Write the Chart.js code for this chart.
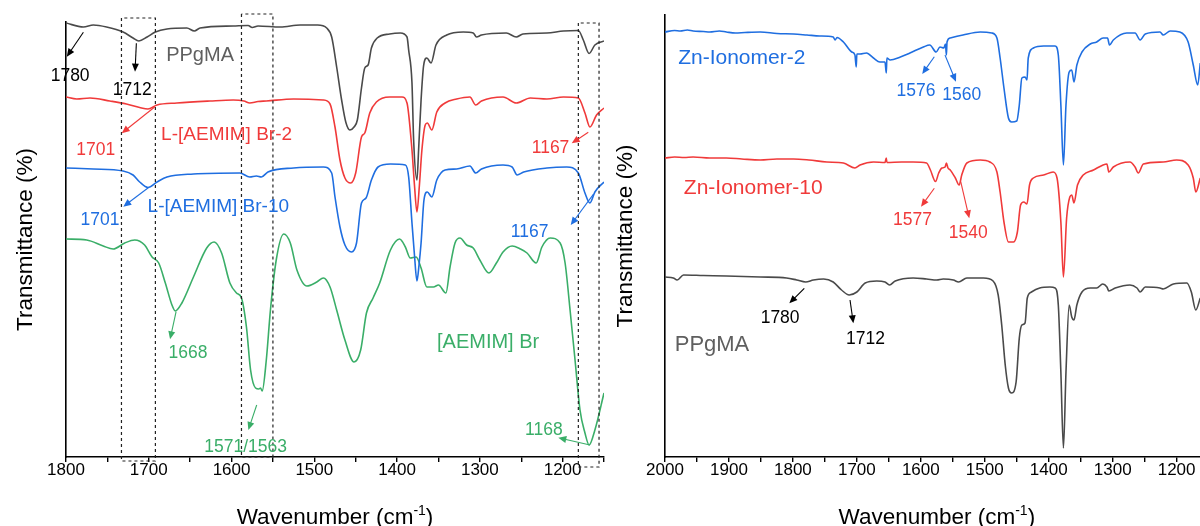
<!DOCTYPE html>
<html>
<head>
<meta charset="utf-8">
<script src="https://cdn.jsdelivr.net/npm/chart.js@4.4.1/dist/chart.umd.min.js"></script>
<style>
  html, body { margin: 0; padding: 0; background: #fff; width: 1200px; height: 526px; overflow: hidden; }
  .panel { position: absolute; top: 0; }
  #leftBox { left: 0; width: 620px; height: 526px; }
  #rightBox { left: 600px; width: 625px; height: 526px; }
</style>
</head>
<body>
<div id="leftBox" class="panel"><canvas id="left" width="620" height="526"></canvas></div>
<div id="rightBox" class="panel"><canvas id="right" width="625" height="526"></canvas></div>
<script>
// ---- FTIR spectra, [wavenumber (cm-1), offset transmittance (a.u.)] ----
const ppgmaL = [[1800,434],[1779,430],[1767,432],[1751,430],[1731,425],[1719,419],[1712,416],[1702,420],[1692,425],[1678,428],[1654,429],[1645,426],[1638,429],[1598,431],[1580,431.5],[1575,429.5],[1568,431],[1541,430],[1517,432],[1496,432],[1485,429],[1479,420],[1473,390],[1467,357],[1462,335],[1457,327],[1452,330],[1448,337],[1443,369],[1439,389],[1435,392],[1431,409],[1424,419],[1409,423],[1396,424],[1388,420],[1386,407],[1382,374],[1380,317],[1376,277],[1374,307],[1371,357],[1368,391],[1364,399],[1359,394],[1353,412],[1340,422],[1320,425],[1308,424],[1304,420],[1298,422],[1268,424],[1256,420],[1248,423],[1219,424],[1199,426],[1181,426.5],[1175,417],[1168,403.5],[1161,412],[1150,416]];

const aemimBr2 = [[1800,360],[1787,358],[1771,359],[1747,356],[1727,353],[1711,349.5],[1701,348],[1690,352],[1666,354],[1626,356],[1598,357],[1585,356],[1578,354],[1568,355.5],[1558,356],[1525,358],[1489,357],[1481,353],[1475,330],[1469,297],[1463,279],[1456,274],[1450,284],[1443,320],[1439,324],[1433,344],[1425,355],[1409,360],[1394,360],[1388,354],[1382,307],[1379,272],[1376,245],[1373,272],[1370,307],[1366,332],[1363.5,334],[1358,327],[1352,345],[1342,354],[1328,358],[1312,360],[1305,352],[1298,356],[1272,360],[1256,354],[1239,359],[1219,358],[1199,360],[1181,359],[1173,344],[1167,330],[1159,342],[1150,349]];

const aemimBr10 = [[1800,289],[1767,288],[1731,286],[1719,282],[1711,275],[1701,269.5],[1690,275],[1678,280],[1646,283],[1590,284],[1578,280],[1570,281],[1564,280],[1556,285],[1525,289],[1489,290],[1479,284],[1475,260],[1469,230],[1463,212],[1455,205],[1449,214],[1443,254],[1437.5,259],[1431,277],[1423,290],[1408,293],[1390,292],[1386,280],[1382,234],[1379,202],[1376,176],[1373.5,192],[1371,214],[1367.5,257],[1363.5,265],[1358,260],[1352,277],[1342,287],[1328,288],[1312,291],[1305,284],[1298,288],[1272,292],[1261,290],[1255,282],[1247,285],[1219,289],[1195,290],[1181,284],[1173,264],[1167,254],[1161,265],[1150,275]];

const aemimBr = [[1800,218],[1775,217],[1755,211],[1743,208],[1729,214],[1717,217],[1705,212],[1696,200],[1688,194],[1680,174],[1672,152],[1668,146],[1660,154],[1646,180],[1630,209],[1621,215],[1612,204],[1602,174],[1594,164],[1588,159],[1582,130],[1577,87],[1571,69],[1567,68],[1565,69],[1563,66],[1558,97],[1553,147],[1546,197],[1537,223],[1529,214],[1521,187],[1509,171],[1497,175],[1489,179],[1481,170],[1473,147],[1463,117],[1452,95],[1444,107],[1437,144],[1429,159],[1421,174],[1408,207],[1397,218],[1390,210],[1384,199],[1377,200],[1371,189],[1364,170],[1356,170],[1350,172],[1341,164],[1336,190],[1330,214],[1324,219],[1316,212],[1308,209],[1300,197],[1289,184],[1280,194],[1272,205],[1261,211],[1251,208],[1243,204],[1232,194],[1225,210],[1215,219],[1203,214],[1197,194],[1191,147],[1185,97],[1179,47],[1173,24],[1168,12],[1161,27],[1150,64]];

const znIonomer2 = [[2000,425],[1985,426.5],[1976,426],[1965,427],[1956,426],[1940,425.5],[1930,425],[1915,426],[1904,425],[1890,424],[1875,424.5],[1851,425],[1825,423.5],[1799,423],[1778,422],[1758,421],[1737,420],[1734,417],[1731,419.5],[1721,415],[1708,405],[1703,402],[1701,390],[1700,403],[1695,403],[1685,404],[1674,399],[1664,395],[1656,395],[1654,384],[1653,399],[1648,397],[1632,400],[1617,404],[1596,410],[1586,412],[1576,405],[1570,410],[1564,409],[1561.5,413],[1560,402],[1559,415],[1554,419],[1534,422],[1507,425],[1489,424],[1481,419],[1476,399],[1470,369],[1463,339],[1458,335],[1450,336],[1446,352],[1442,379],[1437,380],[1434,377],[1432,399],[1424,409],[1408,411],[1390,411],[1385,402],[1381,352],[1377,292],[1373,352],[1368,385],[1364,387],[1360.5,375],[1356,392],[1348,405],[1335,413],[1325,415],[1315,419],[1308,419],[1305,412],[1299,417],[1278,424],[1265,424],[1257,417],[1249,423],[1226,425],[1221,422],[1210,426],[1195,425],[1182,415],[1174,392],[1167,372],[1163,394]];

const znIonomer10 = [[2000,299],[1985,300],[1970,299.5],[1956,300],[1930,299],[1904,299],[1880,298],[1851,297],[1825,298],[1799,298],[1775,297],[1747,295],[1721,294],[1703,289],[1695,292],[1674,295],[1656,294.5],[1654,299],[1653,294.5],[1630,295],[1612,295],[1591,294],[1585,287],[1577,275.5],[1572,284],[1567,289],[1562,290],[1560,294],[1557.5,289],[1554,287],[1546,279],[1540,272],[1536,282],[1528,294],[1507,297],[1492,295],[1481,285],[1476,265],[1470,235],[1463,215],[1455,215],[1449,225],[1444,252],[1439,255],[1434,253],[1430,272],[1424,279],[1408,282],[1393,285],[1387,279],[1381,235],[1377,180],[1372,239],[1367,260],[1364,262],[1360.5,254],[1355,272],[1346,282],[1330,287],[1315,292],[1309,293],[1306,285],[1299,290],[1273,295],[1265,290],[1260,284],[1252,293],[1221,295],[1200,297],[1182,292],[1174,279],[1170,265],[1163,279]];

const ppgmaR = [[2000,180],[1987,179],[1981,177],[1971,182],[1940,181.5],[1904,181],[1851,180],[1810,179],[1794,177],[1780,175],[1768,177],[1752,178],[1737,175],[1724,167],[1712,162],[1700,165],[1687,174],[1669,176],[1656,175],[1649,172],[1640,176],[1612,179],[1591,178],[1575,177],[1565,178],[1549,177],[1541,175],[1528,179],[1502,179],[1487,176],[1479,162],[1473.5,132],[1468,92],[1463,69],[1458,64],[1451,75],[1446,119],[1442,132],[1437,134],[1433.5,159],[1427,165],[1414,169],[1398,170],[1390,169],[1385,152],[1381,85],[1377,9],[1373,85],[1368,152],[1364,140],[1360.5,137],[1356,152],[1348,165],[1335,169],[1325,169],[1315.5,173],[1309,170],[1306,166],[1296,169],[1273,172],[1262,169],[1257,165],[1249,170],[1226,169],[1221,168],[1205,173],[1184,174],[1177,165],[1170,147],[1163,159]];

// wavenumber windows highlighted with dotted boxes (left panel)
const bands = [[1733, 1692], [1588, 1550], [1181, 1156]];

// axis ranges and tick spacing
const leftRange = [1150, 1800];
const rightRange = [1150, 2000];
const tickStep = 50;
const labelStep = 100;

// ---- styling ----
const FONT = '"Liberation Sans", Arial, Helvetica, sans-serif';
const GRAY = '#4a4a4a', RED = '#f03a3a', BLUE = '#1f6ee0', GREEN = '#3aae68', TXTGRAY = '#5f5f5f';

function line(pts, color) {
  return {
    data: pts.map(([x, y]) => ({ x, y })),
    borderColor: color, borderWidth: 1.6, pointRadius: 0,
    cubicInterpolationMode: 'monotone', fill: false
  };
}

function box([a, b], top, bottom) {
  return {
    data: [{x: a, y: top}, {x: a, y: bottom}, {x: b, y: bottom}, {x: b, y: top}, {x: a, y: top}],
    borderColor: '#222', borderWidth: 1.2, borderDash: [3, 3], pointRadius: 0,
    tension: 0, fill: false, clip: false
  };
}

function arrow(ctx, x1, y1, x2, y2, color) {
  const a = Math.atan2(y2 - y1, x2 - x1), c = Math.cos(a), s = Math.sin(a);
  const head = 8, half = 3.5;
  ctx.strokeStyle = color; ctx.fillStyle = color; ctx.lineWidth = 1.1;
  ctx.beginPath(); ctx.moveTo(x1, y1); ctx.lineTo(x2 - c * head * 0.7, y2 - s * head * 0.7); ctx.stroke();
  ctx.beginPath();
  ctx.moveTo(x2, y2);
  ctx.lineTo(x2 - head * c + half * s, y2 - head * s - half * c);
  ctx.lineTo(x2 - head * c - half * s, y2 - head * s + half * c);
  ctx.closePath(); ctx.fill();
}

// labels, peak arrows and axis titles
const annotate = {
  id: 'annotate',
  afterDraw(chart, args, opts) {
    const { ctx, scales: { x, y }, chartArea } = chart;
    const px = v => x.getPixelForValue(v), py = v => y.getPixelForValue(v);
    ctx.save();
    for (const a of opts.items) {
      if (a.from) arrow(ctx, px(a.from[0]), py(a.from[1]), px(a.to[0]), py(a.to[1]), a.color);
      ctx.font = a.size + 'px ' + FONT;
      ctx.fillStyle = a.color; ctx.textAlign = 'center'; ctx.textBaseline = 'middle';
      ctx.fillText(a.text, px(a.at[0]), py(a.at[1]));
    }
    // x title with superscript
    ctx.fillStyle = '#000'; ctx.textBaseline = 'alphabetic'; ctx.textAlign = 'left';
    const main = 'Wavenumber (cm', sup = '-1', tail = ')';
    ctx.font = '22.5px ' + FONT; const w1 = ctx.measureText(main).width, w3 = ctx.measureText(tail).width;
    ctx.font = '14px ' + FONT; const w2 = ctx.measureText(sup).width;
    const cx = (chartArea.left + chartArea.right) / 2;
    let sx = cx - (w1 + w2 + w3) / 2;
    const base = 523.5;
    ctx.font = '22.5px ' + FONT; ctx.fillText(main, sx, base); sx += w1;
    ctx.font = '14px ' + FONT; ctx.fillText(sup, sx, base - 8.5); sx += w2;
    ctx.font = '22.5px ' + FONT; ctx.fillText(tail, sx, base);
    // y title
    ctx.translate(opts.yTitleX, (chartArea.top + chartArea.bottom) / 2);
    ctx.rotate(-Math.PI / 2);
    ctx.textAlign = 'center'; ctx.textBaseline = 'alphabetic';
    ctx.font = '22.5px ' + FONT;
    ctx.fillText('Transmittance (%)', 0, 0);
    ctx.restore();
  }
};

function xScale(range, h) {
  return {
    type: 'linear', reverse: true, min: range[0], max: range[1],
    afterFit: s => { s.height = h; },
    ticks: {
      stepSize: tickStep, autoSkip: false, maxRotation: 0, padding: 0, color: '#000',
      font: { size: 17, family: FONT, lineHeight: 1 },
      callback: v => (v % labelStep === 0 ? String(v) : '')
    },
    grid: { display: true, drawOnChartArea: false, drawTicks: true, tickLength: 5, color: '#000', lineWidth: 1.4 },
    border: { display: true, color: '#000', width: 1.6 }
  };
}
function yScale(max, w) {
  return {
    min: 0, max: max,
    afterFit: s => { s.width = w; },
    ticks: { display: false },
    grid: { display: false },
    border: { display: true, color: '#000', width: 1.6 }
  };
}
const common = {
  responsive: false, animation: false, devicePixelRatio: 1,
  events: [],
  plugins: { legend: { display: false }, tooltip: { enabled: false } }
};

// ---- left panel: PPgMA, L-[AEMIM] Br blends, [AEMIM] Br ----
new Chart(document.getElementById('left'), {
  type: 'line',
  data: {
    datasets: [
      ...bands.map((b, i) => box(b, [439, 443, 434][i], [-4, 0, -10][i])),
      line(ppgmaL, GRAY), line(aemimBr2, RED), line(aemimBr10, BLUE), line(aemimBr, GREEN)
    ]
  },
  options: {
    ...common,
    layout: { padding: { top: 22, right: 16, left: 0, bottom: 0 } },
    scales: { x: xScale(leftRange, 69), y: yScale(435, 66) },
    plugins: {
      ...common.plugins,
      annotate: {
        yTitleX: 31.5,
        items: [
          { text: 'PPgMA', at: [1638, 402], size: 20, color: TXTGRAY },
          { text: '1780', at: [1795, 381], size: 17.5, color: '#000', from: [1779, 424.7], to: [1799, 400.3] },
          { text: '1712', at: [1720, 367], size: 17.5, color: '#000', from: [1715, 413.7], to: [1716.6, 385.3] },
          { text: '1701', at: [1764, 307], size: 17.5, color: RED, from: [1692.5, 350.3], to: [1732.7, 323.7] },
          { text: 'L-[AEMIM] Br-2', at: [1606, 322], size: 19, color: RED },
          { text: '1701', at: [1759, 237], size: 17.5, color: BLUE, from: [1700.6, 269.3], to: [1730.8, 250.3] },
          { text: 'L-[AEMIM] Br-10', at: [1616, 250.3], size: 19, color: BLUE },
          { text: '1668', at: [1652.6, 103.7], size: 17.5, color: GREEN, from: [1667, 145.3], to: [1674.3, 117.7] },
          { text: '1571/1563', at: [1583, 10.3], size: 17.5, color: GREEN, from: [1569.6, 52], to: [1579.7, 27] },
          { text: '[AEMIM] Br', at: [1290, 114.3], size: 20, color: GREEN },
          { text: '1168', at: [1222.7, 27], size: 17.5, color: GREEN, from: [1166.9, 12], to: [1205.2, 19.3] },
          { text: '1167', at: [1214.6, 308.7], size: 17.5, color: RED, from: [1169, 324.7], to: [1189, 313.7] },
          { text: '1167', at: [1239.8, 225.3], size: 17.5, color: BLUE, from: [1162.9, 262.7], to: [1190.2, 232] }
        ]
      }
    }
  },
  plugins: [annotate]
});

// ---- right panel: Zn ionomers and PPgMA ----
new Chart(document.getElementById('right'), {
  type: 'line',
  data: {
    datasets: [line(znIonomer2, BLUE), line(znIonomer10, RED), line(ppgmaR, GRAY)]
  },
  options: {
    ...common,
    layout: { padding: { top: 15, right: 16.4, left: 0, bottom: 0 } },
    scales: { x: xScale(rightRange, 69), y: yScale(442, 65) },
    plugins: {
      ...common.plugins,
      annotate: {
        yTitleX: 32,
        items: [
          { text: 'Zn-Ionomer-2', at: [1880, 398.7], size: 21, color: BLUE },
          { text: 'Zn-Ionomer-10', at: [1862, 268.7], size: 21, color: RED },
          { text: 'PPgMA', at: [1926.5, 112], size: 22, color: TXTGRAY },
          { text: '1576', at: [1607.5, 366], size: 17.5, color: BLUE, from: [1578.9, 400.3], to: [1597.8, 383] },
          { text: '1560', at: [1536, 362], size: 17.5, color: BLUE, from: [1562.2, 402], to: [1545, 375.3] },
          { text: '1577', at: [1613, 237], size: 17.5, color: RED, from: [1578.9, 268.7], to: [1599.7, 250.3] },
          { text: '1540', at: [1525.7, 223.7], size: 17.5, color: RED, from: [1537.6, 275.3], to: [1524.2, 238.7] },
          { text: '1780', at: [1820, 138.7], size: 17.5, color: '#000', from: [1782.2, 168.7], to: [1805.6, 153.7] },
          { text: '1712', at: [1686.5, 117.7], size: 17.5, color: '#000', from: [1710.7, 157], to: [1705.5, 133.7] }
        ]
      }
    }
  },
  plugins: [annotate]
});
</script>
</body>
</html>
